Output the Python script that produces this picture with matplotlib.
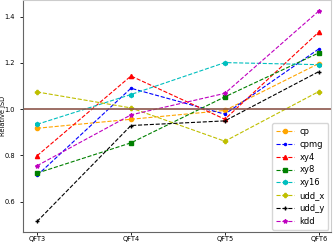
import matplotlib
matplotlib.use('Agg')
import matplotlib.pyplot as plt

# Data --------------------------------------------------
circuits = ['QFT3', 'QFT4', 'QFT5', 'QFT6']
cp = [0.917, 0.956, 0.994, 1.197]
cpmg = [0.713, 1.090, 0.978, 1.260]
xy4 = [0.798, 1.143, 0.956, 1.333]
xy8 = [0.723, 0.854, 1.053, 1.243]
xy16 = [0.934, 1.063, 1.201, 1.192]
udd_x = [1.074, 1.005, 0.861, 1.076]
udd_y = [0.514, 0.929, 0.949, 1.162]
kdd = [0.755, 0.975, 1.068, 1.424]

series = [('cp', cp, 'orange', 'o'),
          ('cpmg', cpmg, 'blue', '.'),
          ('xy4', xy4, 'red', '^'),
          ('xy8', xy8, 'green', 's'),
          ('xy16', xy16, 'c', 'h'),
          ('udd_x', udd_x, 'y', 'P'),
          ('udd_y', udd_y, 'black', '+'),
          ('kdd', kdd, 'm', '*')]

# Plot --------------------------------------------------
fig = plt.figure(figsize=(3.33, 2.43), dpi=100)
ax = fig.add_axes([22.5/333, 11/243, 308.5/333, 231.5/243])
x = list(range(len(circuits)))
for name, vals, color, marker in series:
    ax.plot(x, vals, linestyle='--', color=color, marker=marker,
            markersize=3, linewidth=0.8, label=name)
ax.axhline(1.0, color='tab:brown', linewidth=1.2)

ax.set_xticks(x)
ax.set_xticklabels(circuits)
ax.set_xlim(-0.155, 3.13)
ax.tick_params(labelsize=4.8, length=2, width=0.6)
ax.tick_params(axis='x', pad=1.2)
ax.set_ylabel('Relative JSD', fontsize=4.8)
ax.yaxis.set_label_coords(-0.053, 0.5)
for side in ['left', 'bottom']:
    ax.spines[side].set_color('#666666')
for side in ['top', 'right']:
    ax.spines[side].set_color('#cccccc')
ax.legend(loc='lower right', fontsize=6, handlelength=2.2,
          borderpad=0.45, labelspacing=0.46, handletextpad=0.6,
          borderaxespad=0.3)

fig.savefig('out.png', dpi=100)
